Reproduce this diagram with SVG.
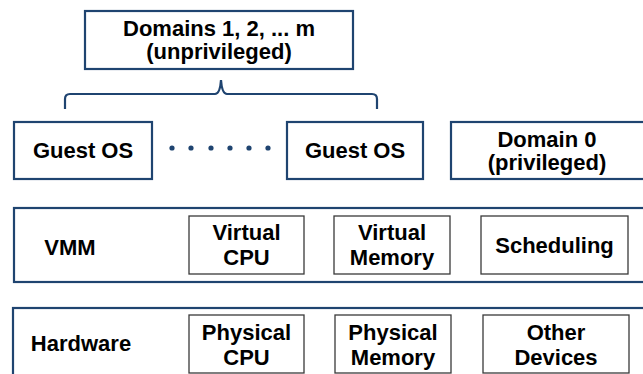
<svg xmlns="http://www.w3.org/2000/svg" width="643" height="374" viewBox="0 0 643 374">
<style>
.outer{fill:#fff;stroke:#1f4470;stroke-width:2.2}
.inner{fill:#fff;stroke:#3a3a3a;stroke-width:1.3}
text{font-family:"Liberation Sans",Arial,sans-serif;font-weight:bold;font-size:22px;fill:#000;text-anchor:middle}
.conn{fill:none;stroke:#1f4470;stroke-width:2.2}
.dot{fill:#1f4470}
</style>
<rect width="643" height="374" fill="#fff"/>
<g id="domains">
<rect class="outer" x="85" y="11" width="268" height="58"/>
<text x="219" y="36">Domains 1, 2, ... m</text>
<text x="219" y="59">(unprivileged)</text>
</g>
<g id="guest1">
<rect class="outer" x="14" y="122" width="138" height="57"/>
<text x="83" y="158">Guest OS</text>
</g>
<g id="guest2">
<rect class="outer" x="287" y="122" width="136" height="57"/>
<text x="355" y="158">Guest OS</text>
</g>
<g id="domain0">
<rect class="outer" x="451" y="122" width="200" height="57"/>
<text x="547" y="147">Domain 0</text>
<text x="547" y="170">(privileged)</text>
</g>
<g id="vmm">
<rect class="outer" x="14" y="208" width="640" height="74"/>
<text x="70" y="255">VMM</text>
</g>
<g id="vcpu">
<rect class="inner" x="189" y="216" width="115" height="58"/>
<text x="246.5" y="240">Virtual</text>
<text x="246.5" y="265">CPU</text>
</g>
<g id="vmem">
<rect class="inner" x="334" y="216" width="116" height="58"/>
<text x="392" y="240">Virtual</text>
<text x="392" y="265">Memory</text>
</g>
<g id="sched">
<rect class="inner" x="481" y="216" width="147" height="58"/>
<text x="554.5" y="253">Scheduling</text>
</g>
<g id="hardware">
<rect class="outer" x="13" y="308" width="640" height="80"/>
<text x="81" y="351">Hardware</text>
</g>
<g id="pcpu">
<rect class="inner" x="189" y="315" width="115" height="58"/>
<text x="246.5" y="340">Physical</text>
<text x="246.5" y="365">CPU</text>
</g>
<g id="pmem">
<rect class="inner" x="335" y="315" width="116" height="58"/>
<text x="393" y="340">Physical</text>
<text x="393" y="365">Memory</text>
</g>
<g id="other">
<rect class="inner" x="483" y="315" width="146" height="58"/>
<text x="556" y="340">Other</text>
<text x="556" y="365">Devices</text>
</g>
<g id="connectors">
<path class="conn" d="M65,109 V99 Q65,94 70,94 H215 Q220,94 221,80 Q222,94 227,94 H372 Q377,94 377,99 V109"/>
<circle class="dot" cx="172" cy="148" r="2.6"/>
<circle class="dot" cx="191" cy="148" r="2.6"/>
<circle class="dot" cx="211" cy="148" r="2.6"/>
<circle class="dot" cx="230" cy="148" r="2.6"/>
<circle class="dot" cx="249" cy="148" r="2.6"/>
<circle class="dot" cx="268" cy="148" r="2.6"/>
</g>
</svg>
